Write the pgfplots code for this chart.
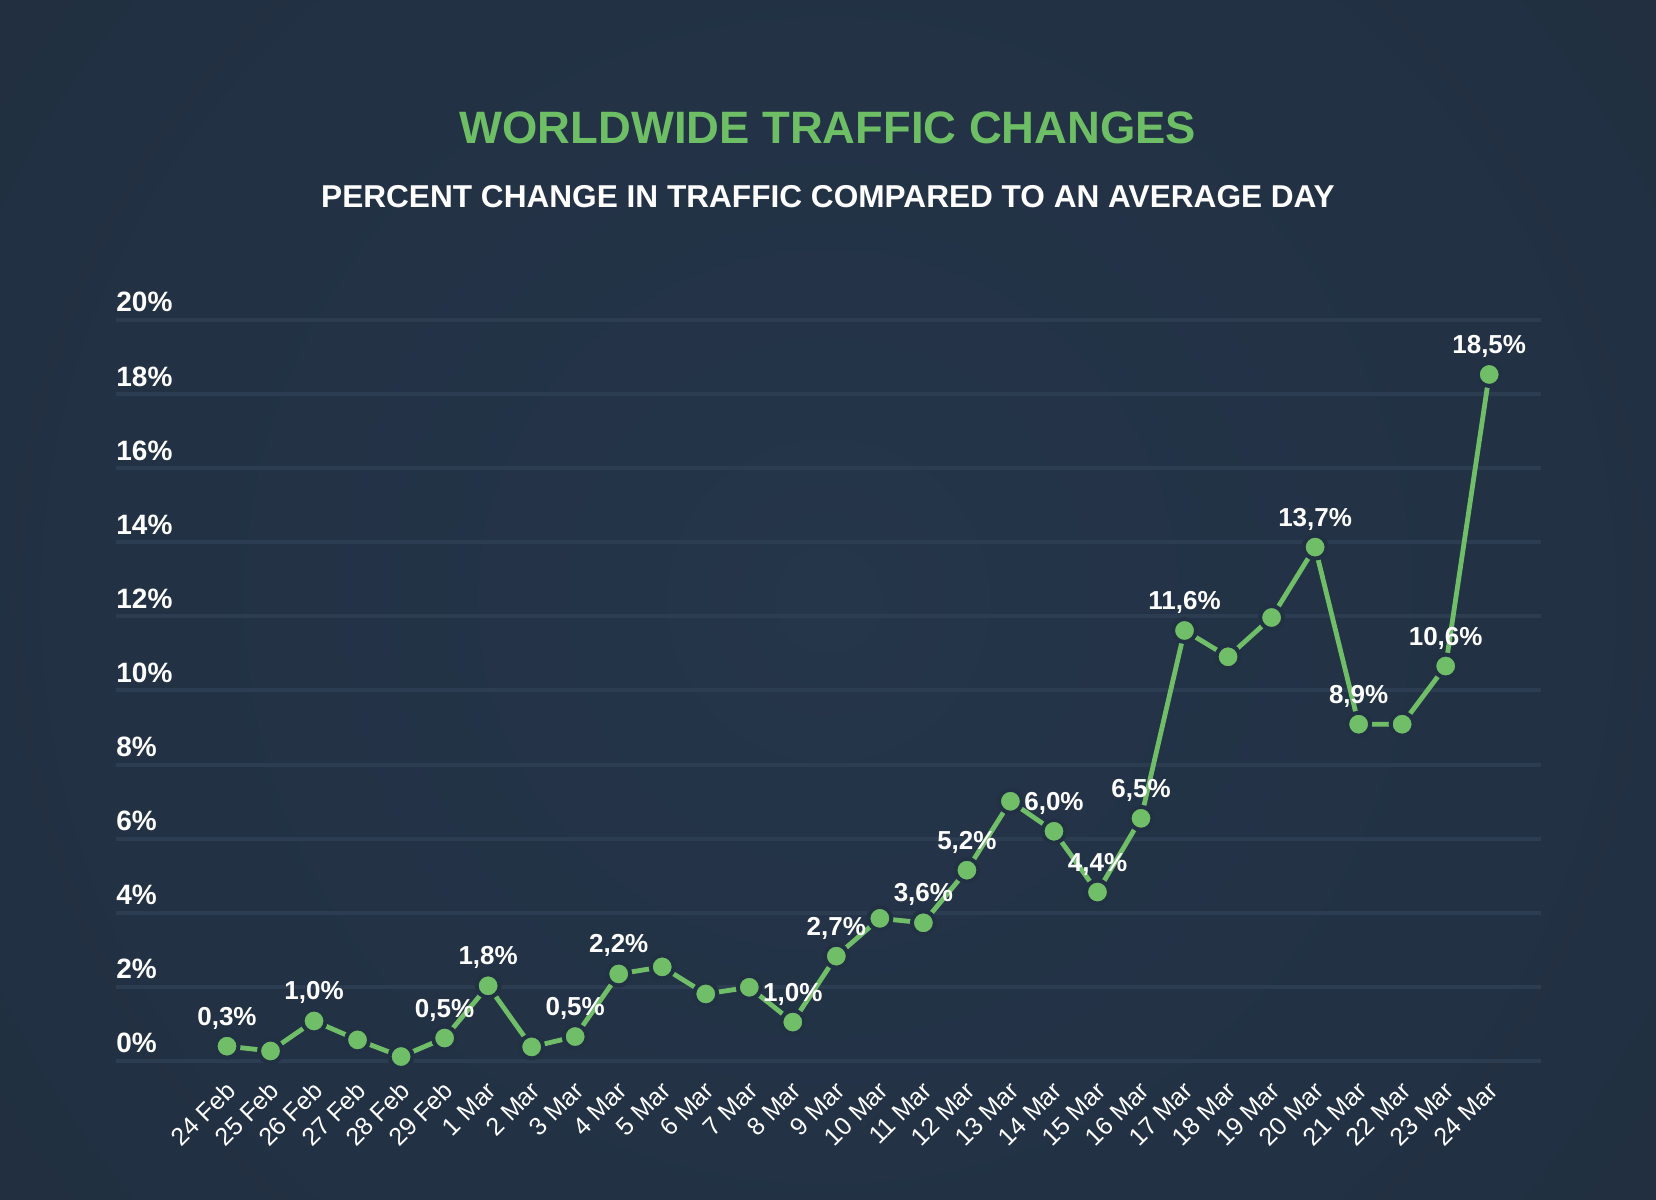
\documentclass[border=0pt]{standalone}
\usepackage{fontspec}
\setmainfont{Liberation Sans}
\usepackage{pgfplots}
\usepackage{pgfplotstable}
\pgfplotsset{compat=1.18}
\definecolor{bgout}{HTML}{1F2D3D}
\definecolor{bgin}{HTML}{25354A}
\definecolor{halo}{HTML}{213042}
\definecolor{gridc}{HTML}{2C3D52}
\definecolor{lgreen}{HTML}{70BE67}
\definecolor{tgreen}{HTML}{6DBE65}
\pgfplotstableread{
x y
0 0.40
1 0.27
2 1.08
3 0.57
4 0.12
5 0.62
6 2.03
7 0.38
8 0.66
9 2.35
10 2.54
11 1.81
12 1.99
13 1.05
14 2.83
15 3.85
16 3.73
17 5.15
18 7.01
19 6.20
20 4.56
21 6.55
22 11.62
23 10.91
24 11.97
25 13.87
26 9.09
27 9.09
28 10.66
29 18.53
}\traffic
\pgfplotstableread{
x y lab
0 0.40 0,3
2 1.08 1,0
5 0.62 0,5
6 2.03 1,8
8 0.66 0,5
9 2.35 2,2
13 1.05 1,0
14 2.83 2,7
16 3.73 3,6
17 5.15 5,2
19 6.20 6,0
20 4.56 4,4
21 6.55 6,5
22 11.62 11,6
25 13.87 13,7
26 9.09 8,9
28 10.66 10,6
29 18.53 18,5
}\labels
\begin{document}
\begin{tikzpicture}
\useasboundingbox (0,0) rectangle (828pt,600pt);
\fill[bgout] (0,0) rectangle (828pt,600pt);
\begin{scope}
\clip (0,0) rectangle (828pt,600pt);
\shade[inner color=bgin, outer color=bgout] (414pt,300pt) circle (700pt);
\end{scope}
\node[anchor=base, text=tgreen, inner sep=0pt, font=\fontsize{22.7}{27}\selectfont\bfseries] at (414pt,528pt) {WORLDWIDE TRAFFIC CHANGES};
\node[anchor=base, text=white, inner sep=0pt, font=\fontsize{15.8}{19}\selectfont\bfseries] at (414pt,496pt) {PERCENT CHANGE IN TRAFFIC COMPARED TO AN AVERAGE DAY};
\begin{axis}[
  at={(58pt,69.5pt)}, anchor=south west,
  scale only axis, width=712.5pt, height=370.5pt,
  xmin=-2.55, xmax=30.19, ymin=0, ymax=20,
  clip=false,
  axis line style={draw=none},
  major tick length=0pt,
  ymajorgrids, grid style={line width=2pt, gridc},
  ytick={0,2,4,6,8,10,12,14,16,18,20},
  yticklabels={0\%,2\%,4\%,6\%,8\%,10\%,12\%,14\%,16\%,18\%,20\%},
  yticklabel style={anchor=base west, inner sep=0pt, yshift=4pt, text=white, font=\fontsize{14}{16}\selectfont\bfseries},
  xtick={0,...,29},
  xticklabels={24 Feb,25 Feb,26 Feb,27 Feb,28 Feb,29 Feb,1 Mar,2 Mar,3 Mar,4 Mar,5 Mar,6 Mar,7 Mar,8 Mar,9 Mar,10 Mar,11 Mar,12 Mar,13 Mar,14 Mar,15 Mar,16 Mar,17 Mar,18 Mar,19 Mar,20 Mar,21 Mar,22 Mar,23 Mar,24 Mar},
  xticklabel style={xshift=2pt, yshift=-12.5pt, rotate=45, anchor=east, inner sep=0pt, text=white, font=\fontsize{12.5}{14}\selectfont},
]
\addplot[lgreen, line width=2.4pt, mark=*, mark size=5.75pt, mark options={fill=lgreen, draw=halo, line width=2pt}] table[x=x, y=y] {\traffic};
\addplot[draw=none, mark=none, point meta=explicit symbolic,
  nodes near coords={\pgfplotspointmeta\%},
  every node near coord/.append style={anchor=base, inner sep=0pt, yshift=10.5pt, text=white, font=\fontsize{13}{15}\selectfont\bfseries}]
  table[x=x, y=y, meta=lab] {\labels};
\end{axis}
\end{tikzpicture}
\end{document}
